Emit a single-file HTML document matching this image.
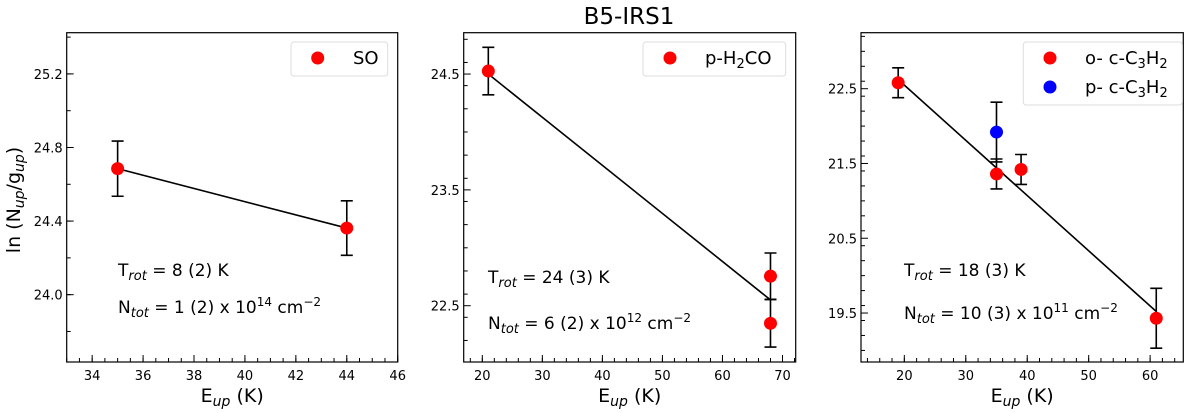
<!DOCTYPE html>
<html><head><meta charset="utf-8"><style>
html,body{margin:0;padding:0;background:#fff;}
svg{display:block;font-family:"DejaVu Sans","Liberation Sans",sans-serif;}
</style></head><body>
<svg id="fig" width="1200" height="413" viewBox="0 0 1200 413">
<text x="629" y="24" font-size="23" text-anchor="middle">B5-IRS1</text>
</svg>
<script>
// Panel 1: SO
const p1X = [35, 44];
const p1Y = [24.685, 24.362];
const p1Err = [0.15, 0.148];
const p1Fit = [[35, 24.685], [44, 24.362]];
const p1XTicks = [34, 36, 38, 40, 42, 44, 46];
const p1YTicks = [24.0, 24.4, 24.8, 25.2];
// Panel 2: p-H2CO
const p2X = [21, 68, 68];
const p2Y = [24.526, 22.755, 22.348];
const p2Err = [0.205, 0.2, 0.205];
const p2Fit = [[21, 24.5], [68, 22.55]];
const p2XTicks = [20, 30, 40, 50, 60, 70];
const p2YTicks = [22.5, 23.5, 24.5];
// Panel 3: c-C3H2
const p3OX = [19, 35, 39, 61];
const p3OY = [22.58, 21.36, 21.42, 19.43];
const p3OErr = [0.2, 0.2, 0.2, 0.4];
const p3PX = [35];
const p3PY = [21.92];
const p3PErr = [0.4];
const p3Fit = [[19.3, 22.6], [61, 19.52]];
const p3XTicks = [20, 30, 40, 50, 60];
const p3YTicks = [19.5, 20.5, 21.5, 22.5];

const NS = "http://www.w3.org/2000/svg";
const svg = document.getElementById('fig');
function mk(tag, attrs, parent) {
  const e = document.createElementNS(NS, tag);
  for (const k in attrs) e.setAttribute(k, attrs[k]);
  (parent || svg).appendChild(e);
  return e;
}
function panel(cfg) {
  const g = mk('g', {});
  
  
  const sx = v => cfg.x0 + (v - cfg.xmin) / (cfg.xmax - cfg.xmin) * (cfg.x1 - cfg.x0);
  const sy = v => cfg.y1 - (v - cfg.ymin) / (cfg.ymax - cfg.ymin) * (cfg.y1 - cfg.y0);
  for (let v = Math.ceil(cfg.xmin / cfg.xminor) * cfg.xminor; v <= cfg.xmax + 1e-9; v += cfg.xminor) {
    const t = mk('line', {x1: sx(v), x2: sx(v), y1: cfg.y1, y2: cfg.y1 - 4, stroke: '#000', 'stroke-width': 1}, g);
    
    
  }
  for (let v = Math.ceil(cfg.ymin / cfg.yminor) * cfg.yminor; v <= cfg.ymax + 1e-9; v += cfg.yminor) {
    const t = mk('line', {x1: cfg.x0, x2: cfg.x0 + 4, y1: sy(v), y2: sy(v), stroke: '#000', 'stroke-width': 1}, g);
    
    
  }
  cfg.xticks.forEach(v => {
    const t = mk('line', {x1: sx(v), x2: sx(v), y1: cfg.y1, y2: cfg.y1 - 7, stroke: '#000', 'stroke-width': 1}, g);
    
    
    const l = mk('text', {x: sx(v), y: cfg.y1 + 18, 'font-size': 13, 'text-anchor': 'middle'}, g);
    l.textContent = String(v);
    
    
  });
  cfg.yticks.forEach(v => {
    const t = mk('line', {x1: cfg.x0, x2: cfg.x0 + 7, y1: sy(v), y2: sy(v), stroke: '#000', 'stroke-width': 1}, g);
    
    
    const l = mk('text', {x: cfg.x0 - 4, y: sy(v) + 5, 'font-size': 13, 'text-anchor': 'end'}, g);
    l.textContent = v.toFixed(1);
    
    
  });
  const fr = mk('rect', {x: cfg.x0, y: cfg.y0, width: cfg.x1 - cfg.x0, height: cfg.y1 - cfg.y0, fill: 'none', stroke: '#000', 'stroke-width': 1.2}, g);
  
  
  const fl = mk('line', {x1: sx(cfg.fit[0][0]), y1: sy(cfg.fit[0][1]), x2: sx(cfg.fit[1][0]), y2: sy(cfg.fit[1][1]), stroke: '#000', 'stroke-width': 1.6}, g);
  
  
  cfg.series.forEach(s => {
    s.xs.forEach((xv, i) => {
      const cx = sx(xv), top = sy(s.ys[i] + s.err[i]), bot = sy(s.ys[i] - s.err[i]);
      const eb = mk('path', {d: `M${cx},${top}V${bot}M${cx-6},${top}H${cx+6}M${cx-6},${bot}H${cx+6}`, stroke: '#000', 'stroke-width': 1.6, fill: 'none'}, g);
      
      
    });
  });
  cfg.series.forEach(s => {
    s.xs.forEach((xv, i) => {
      const c = mk('circle', {cx: sx(xv), cy: sy(s.ys[i]), r: 6.5, fill: s.color}, g);
      
      
    });
  });
  const lg = mk('g', {}, g);
  
  
  mk('rect', {x: cfg.leg.x, y: 42, width: cfg.leg.w, height: cfg.leg.h, rx: 3, fill: '#fff', stroke: '#ddd', 'stroke-width': 1}, lg);
  cfg.series.forEach((s, i) => {
    const yy = 58 + i * 29;
    const m = mk('circle', {cx: cfg.leg.mx, cy: yy, r: 6.5, fill: s.color}, lg);
    
    
    const t = mk('text', {x: cfg.leg.tx, y: yy + 6, 'font-size': 18}, lg);
    t.innerHTML = s.label;
    
    
  });
  const a1 = mk('text', {x: cfg.ann.x, y: cfg.ann.y1, 'font-size': 17}, g);
  a1.innerHTML = cfg.ann.t;
  
  
  const a2 = mk('text', {x: cfg.ann.x, y: cfg.ann.y2, 'font-size': 17}, g);
  a2.innerHTML = cfg.ann.n;
  
  
  const xl = mk('text', {x: (cfg.x0 + cfg.x1) / 2, y: 402, 'font-size': 19, 'text-anchor': 'middle'}, g);
  xl.innerHTML = 'E<tspan font-size="14" dy="4" font-style="italic">up</tspan><tspan dy="-4"> (K)</tspan>';
  
  
}
const sub = s => `<tspan font-size="13" dy="4" font-style="italic">${s}</tspan><tspan dy="-4">`;
const sup = s => `<tspan font-size="12" dy="-7">${s}</tspan><tspan dy="7">`;
const subN = s => `<tspan font-size="13" dy="4">${s}</tspan><tspan dy="-4">`;

panel({name: 'panel-so', x0: 66.7, x1: 397.7, y0: 32.7, y1: 362, xmin: 33, xmax: 46, ymin: 23.634, ymax: 25.424,
  xminor: 0.5, yminor: 0.2, xticks: p1XTicks, yticks: p1YTicks, fit: p1Fit,
  series: [{xs: p1X, ys: p1Y, err: p1Err, color: '#ff0000', label: 'SO', pointName: 'so-point'}],
  leg: {x: 291, w: 96.7, h: 34, mx: 317.7, tx: 353},
  ann: {x: 118, y1: 276, y2: 313, t: 'T' + sub('rot') + ' = 8 (2) K</tspan>', n: 'N' + sub('tot') + ' = 1 (2) x 10' + sup('14') + ' cm' + sup('−2') + '</tspan></tspan></tspan>'}});
panel({name: 'panel-h2co', x0: 463.7, x1: 795.7, y0: 32.7, y1: 362, xmin: 16.9, xmax: 72.2, ymin: 22.014, ymax: 24.857,
  xminor: 2, yminor: 0.2, xticks: p2XTicks, yticks: p2YTicks, fit: p2Fit,
  series: [{xs: p2X, ys: p2Y, err: p2Err, color: '#ff0000', label: 'p-H' + subN('2') + 'CO</tspan>', pointName: 'h2co-point'}],
  leg: {x: 643, w: 142.7, h: 34, mx: 670, tx: 705},
  ann: {x: 488, y1: 283, y2: 329, t: 'T' + sub('rot') + ' = 24 (3) K</tspan>', n: 'N' + sub('tot') + ' = 6 (2) x 10' + sup('12') + ' cm' + sup('−2') + '</tspan></tspan></tspan>'}});
panel({name: 'panel-c3h2', x0: 861, x1: 1183.3, y0: 32.7, y1: 362, xmin: 12.95, xmax: 65.4, ymin: 18.845, ymax: 23.249,
  xminor: 2, yminor: 0.2, xticks: p3XTicks, yticks: p3YTicks, fit: p3Fit,
  series: [{xs: p3OX, ys: p3OY, err: p3OErr, color: '#ff0000', label: 'o- c-C' + subN('3') + 'H' + subN('2') + '</tspan></tspan>', pointName: 'ortho-c3h2-point'},
           {xs: p3PX, ys: p3PY, err: p3PErr, color: '#0000ff', label: 'p- c-C' + subN('3') + 'H' + subN('2') + '</tspan></tspan>', pointName: 'para-c3h2-point'}],
  leg: {x: 1023.3, w: 159, h: 63, mx: 1050, tx: 1085},
  ann: {x: 904, y1: 276, y2: 319, t: 'T' + sub('rot') + ' = 18 (3) K</tspan>', n: 'N' + sub('tot') + ' = 10 (3) x 10' + sup('11') + ' cm' + sup('−2') + '</tspan></tspan></tspan>'}});

const yl = mk('text', {x: 0, y: 0, 'font-size': 19, 'text-anchor': 'middle', transform: 'translate(20,200) rotate(-90)'});
yl.innerHTML = 'ln (N<tspan font-size="14" dy="4" font-style="italic">up</tspan><tspan dy="-4">/g</tspan><tspan font-size="14" dy="4" font-style="italic">up</tspan><tspan dy="-4">)</tspan>';


</script>
</body></html>
